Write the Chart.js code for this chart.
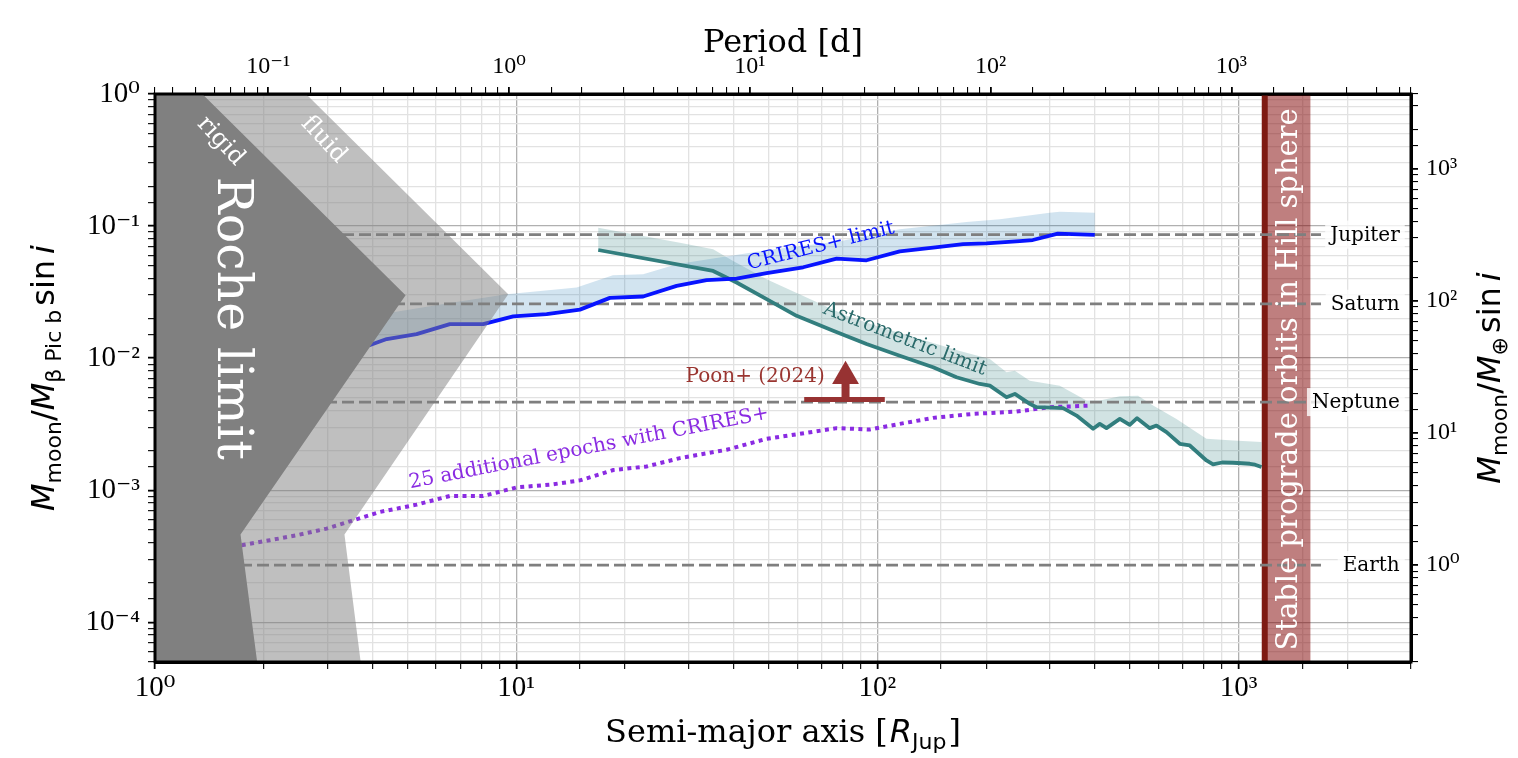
<!DOCTYPE html>
<html><head><meta charset="utf-8">
<script src="https://cdn.jsdelivr.net/npm/chart.js@4.4.1/dist/chart.umd.min.js"></script>
<style>html,body{margin:0;padding:0;background:#fff;}#wrap{width:1518px;height:758px;}</style>
</head><body><div id="wrap"><canvas id="c" width="1518" height="758"></canvas></div>
<script>
// ---------------- axis parameters ----------------
const X_MIN = 1, X_MAX = 3000;          // semi-major axis [R_Jup]
const Y_MIN = 5e-5, Y_MAX = 1;          // M_moon / M_bPic
const A_ONE_DAY = 9.55;                 // R_Jup at P = 1 d
const MASS_RATIO_EARTH = 3690;          // M_bPic / M_earth

// ---------------- Roche limit regions ----------------
const rocheRigidA = [1, 1.352, 4.94, 1.725, 1.918, 1];
const rocheRigidM = [1, 1, 0.02996, 4.61e-4, 5e-5, 5e-5];
const rocheFluidA = [1, 2.618, 9.504, 3.346, 3.710, 1];
const rocheFluidM = [1, 1, 0.03049, 4.61e-4, 5e-5, 5e-5];

// ---------------- CRIRES+ limit ----------------
const criresA = [3.25,3.94,4.38,5.30,6.55,8.10,9.81,12.14,15.01,18.17,22.46,27.80,33.65,40.74,49.33,62.30,77.08,93.3,115.3,142.6,172.7,200.4,247.8,269.2,315.7,399.6];
const criresM = [0.01171,0.01256,0.01394,0.01521,0.01810,0.01810,0.02069,0.02153,0.02329,0.02859,0.02929,0.03522,0.03890,0.04006,0.04393,0.04874,0.05673,0.05507,0.06440,0.06868,0.07311,0.07401,0.07702,0.07838,0.08761,0.08579];
const criresUpperA = [3.25,3.98,6.68,9.41,14.70,18.52,22.46,27.80,35.09,49.33,78.7,115.3,176.5,218.2,300.0,319.8,399.6];
const criresUpperM = [0.01659,0.02090,0.02638,0.03049,0.03424,0.04241,0.04316,0.05137,0.05673,0.06555,0.07663,0.09443,0.1072,0.1124,0.1262,0.1285,0.1262];

// ---------------- Astrometric limit ----------------
const astroA = [16.87,35.09,40.74,49.33,59.72,75.42,93.3,115.3,142.6,165.5,192.1,204.7,227.7,240.1,264.1,275.6,326.6,355.8,395.4,412.6,430.6,468.9,499.5,523.3,567.5,592.3,631.3,687.1,732.2,814.4,849.5,900,965.0,1020,1073.3,1110,1156.6];
const astroM = [0.06588,0.04571,0.03736,0.02795,0.02090,0.01610,0.01278,0.01042,0.008519,0.007161,0.006373,0.006186,0.005057,0.005357,0.004500,0.004249,0.004176,0.003673,0.002914,0.003178,0.002950,0.003467,0.003125,0.003510,0.002950,0.003086,0.002752,0.002245,0.002180,0.001679,0.001566,0.001620,0.001613,0.001600,0.001585,0.001560,0.001497];
const astroUpperA = [16.87,28.38,35.09,39.86,49.33,63.66,82.14,101.5,131.0,169.1,204.7,227.7,240.1,264.1,319.8,379.1,412.6,468.9,526.6,579.6,672.8,814.4,965.0,1156.6];
const astroUpperM = [0.09725,0.07490,0.06668,0.05438,0.03957,0.02878,0.02090,0.01717,0.01394,0.01131,0.009844,0.007811,0.008032,0.006750,0.006186,0.004767,0.004767,0.005147,0.005200,0.004369,0.003467,0.002449,0.002377,0.002312];

// ---------------- 25 additional epochs ----------------
const epochsA = [1.738,2.081,2.467,2.987,3.428,4.196,5.302,6.553,8.10,10.03,12.40,15.01,18.56,22.96,28.38,38.23,49.33,60.98,77.08,95.3,115.3,142.6,184.0,242.7,300.0,387.3];
const epochsM = [3.83e-4,4.18e-4,4.556e-4,5.119e-4,5.752e-4,6.845e-4,7.770e-4,9.04e-4,9.04e-4,1.050e-3,1.100e-3,1.186e-3,1.421e-3,1.512e-3,1.750e-3,2.022e-3,2.449e-3,2.671e-3,2.950e-3,2.879e-3,3.178e-3,3.529e-3,3.783e-3,3.938e-3,4.249e-3,4.369e-3];

// ---------------- Poon+ (2024) lower limit ----------------
const poonBarA = [62.7, 104.8];
const poonM = 4.85e-3;
const poonArrowA = 81.6;
const poonStemTopM = 6.4e-3;
const poonHeadM = 7.30e-3;

// ---------------- Solar-system planets ----------------
const planetNames = ['Jupiter', 'Saturn', 'Neptune', 'Earth'];
const planetMassEarth = [317.8, 95.16, 17.15, 1.0];
const planetLineA = [1, 1690];

// ---------------- Hill sphere ----------------
const hillInnerA = 1181;
const hillOuterA = 1580;

// ---------------- tick labels ----------------
const SUP = {'-':'\u207B','0':'\u2070','1':'\u00B9','2':'\u00B2','3':'\u00B3','4':'\u2074','5':'\u2075','6':'\u2076','7':'\u2077','8':'\u2078','9':'\u2079'};
function isDecade(v){ if(!(v>0)) return false; const l=Math.log10(v); return Math.abs(l-Math.round(l))<1e-6; }
function decadeLabel(v){ if(!isDecade(v)) return ''; const r=Math.round(Math.log10(v)); return '10'+String(r).split('').map(c=>SUP[c]).join(''); }

const pts = (xs, ys) => xs.map((a,i)=>({x:a, y: Array.isArray(ys)? ys[i] : ys}));
const polygon = (xs1, ys1, xs2, ys2) => pts(xs1, ys1).concat(pts(xs2, ys2).reverse());
const planetM = planetMassEarth.map(v => v / MASS_RATIO_EARTH);

const base = {pointRadius:0, pointHoverRadius:0, tension:0, fill:false};
const datasets = [];
// order: lower is drawn on top
datasets.push({...base, label:'rigid', data: pts(rocheRigidA, rocheRigidM), borderWidth:0, borderColor:'rgba(0,0,0,0)', backgroundColor:'#808080', fill:'shape', order:1});
datasets.push({...base, label:'fluid', data: pts(rocheFluidA, rocheFluidM), borderWidth:0, borderColor:'rgba(0,0,0,0)', backgroundColor:'rgba(128,128,128,0.5)', fill:'shape', order:2});
datasets.push({...base, label:'Poon bar', data: pts(poonBarA, poonM), borderColor:'#973232', borderWidth:5, borderCapStyle:'butt', order:3});
datasets.push({...base, label:'Poon stem', data: [{x:poonArrowA,y:poonM},{x:poonArrowA,y:poonStemTopM}], borderColor:'#973232', borderWidth:8, borderCapStyle:'butt', order:3});
datasets.push({label:'Poon head', data: [{x:poonArrowA,y:poonHeadM}], showLine:false, pointStyle:'triangle', pointRadius:15.5, pointHoverRadius:15.5, pointBackgroundColor:'#973232', pointBorderWidth:0, backgroundColor:'#973232', borderWidth:0, order:3});
datasets.push({...base, label:'CRIRES+ limit', data: pts(criresA, criresM), borderColor:'#0814ff', borderWidth:3.8, borderJoinStyle:'round', order:4});
datasets.push({...base, label:'Astrometric limit', data: pts(astroA, astroM), borderColor:'#327e7e', borderWidth:3.8, borderJoinStyle:'round', order:5});
datasets.push({...base, label:'25 additional epochs', data: pts(epochsA, epochsM), borderColor:'#8a2be2', borderWidth:4, borderDash:[4,4.4], borderCapStyle:'butt', order:6});
planetNames.forEach((n,i)=>{
  datasets.push({...base, label:n, data: pts(planetLineA, planetM[i]), borderColor:'#7f7f7f', borderWidth:2.8, borderDash:[12,5], borderCapStyle:'butt', order:7});
});
datasets.push({...base, label:'CRIRES+ band', data: polygon(criresUpperA, criresUpperM, criresA, criresM), borderWidth:0, borderColor:'rgba(0,0,0,0)', backgroundColor:'rgba(31,119,180,0.2)', fill:'shape', order:8});
datasets.push({...base, label:'Astrometric band', data: polygon(astroUpperA, astroUpperM, astroA, astroM), borderWidth:0, borderColor:'rgba(0,0,0,0)', backgroundColor:'rgba(47,127,127,0.22)', fill:'shape', order:8});
datasets.push({...base, label:'Hill line', data: [{x:hillInnerA,y:1e-6},{x:hillInnerA,y:10}], borderColor:'#7e1b13', borderWidth:6, order:9});
datasets.push({...base, label:'Hill band', data: [{x:hillInnerA,y:1e-6},{x:hillOuterA,y:1e-6},{x:hillOuterA,y:10},{x:hillInnerA,y:10}], borderWidth:0, borderColor:'rgba(0,0,0,0)', backgroundColor:'rgba(128,0,0,0.5)', fill:'shape', order:10});

// ---------------- in-plot annotations (data coordinates) ----------------
const SERIF = '"DejaVu Serif", serif';
const plotTexts = [
  {text:'Roche limit', a:1.62, m:0.0200, rot:90, font:'49px '+SERIF, color:'#ffffff'},
  {text:'rigid', a:1.52, m:0.44, rot:47, font:'24px '+SERIF, color:'#ffffff'},
  {text:'fluid', a:2.93, m:0.45, rot:47, font:'24px '+SERIF, color:'#ffffff'},
  {text:'CRIRES+ limit', a:69.7, m:0.0705, rot:-14, font:'20px '+SERIF, color:'#0814ff'},
  {text:'Astrometric limit', a:119.1, m:0.0139, rot:21, font:'20px '+SERIF, color:'#2a6a6a'},
  {text:'25 additional epochs with CRIRES+', a:15.9, m:0.00208, rot:-11, font:'20px '+SERIF, color:'#8a2be2'},
  {text:'Poon+ (2024)', a:71.5, m:0.0072, rot:0, font:'20px '+SERIF, color:'#9a3530', align:'right'},
  {text:'Stable prograde orbits in Hill sphere', a:1385, m:0.0069, rot:-90, font:'29px '+SERIF, color:'#ffffff'}
];
const planetLabelA = 2792;

function drawRich(ctx, parts, x, y, rot){
  ctx.save(); ctx.translate(x,y); ctx.rotate(rot*Math.PI/180);
  ctx.textBaseline='alphabetic'; ctx.textAlign='left'; ctx.fillStyle='#000';
  let total=0; const w=[];
  for(const p of parts){ ctx.font=p.font; const ww=ctx.measureText(p.text).width + (p.gap||0); w.push(ww); total+=ww; }
  let cx=-total/2;
  parts.forEach((p,i)=>{ ctx.font=p.font; ctx.fillText(p.text, cx+(p.gap||0), p.dy||0); cx+=w[i]; });
  ctx.restore();
}

const annotPlugin = {
  id:'annot',
  afterDatasetsDraw(chart){
    const {ctx, chartArea:ca, scales:{x, y}} = chart;
    ctx.save();
    ctx.beginPath(); ctx.rect(ca.left, ca.top, ca.right-ca.left, ca.bottom-ca.top); ctx.clip();
    for(const t of plotTexts){
      const px=x.getPixelForValue(t.a), py=y.getPixelForValue(t.m);
      ctx.save(); ctx.translate(px,py); ctx.rotate(t.rot*Math.PI/180);
      ctx.font=t.font; ctx.fillStyle=t.color; ctx.textAlign=t.align||'center'; ctx.textBaseline='middle';
      ctx.fillText(t.text,0,0); ctx.restore();
    }
    // planet labels
    ctx.font='20px '+SERIF; ctx.textAlign='right'; ctx.textBaseline='middle';
    planetNames.forEach((n,i)=>{
      const px=x.getPixelForValue(planetLabelA), py=y.getPixelForValue(planetM[i]);
      const w=ctx.measureText(n).width;
      ctx.fillStyle='rgba(255,255,255,0.8)';
      ctx.fillRect(px-w-5, py-14, w+10, 28);
      ctx.fillStyle='#000';
      ctx.fillText(n, px, py+1);
    });
    ctx.restore();
    // frame
    ctx.save(); ctx.strokeStyle='#000'; ctx.lineWidth=3;
    ctx.strokeRect(ca.left, ca.top, ca.right-ca.left, ca.bottom-ca.top); ctx.restore();
  },
  afterDraw(chart){
    const {ctx, chartArea:ca} = chart;
    const cxm=(ca.left+ca.right)/2, cym=(ca.top+ca.bottom)/2;
    const SANS='"DejaVu Sans", sans-serif';
    drawRich(ctx,[{text:'Period [d]', font:'32px '+SERIF}], cxm, 52, 0);
    drawRich(ctx,[
      {text:'Semi-major axis [', font:'32px '+SERIF},
      {text:'R', font:'italic 32px '+SANS, gap:2},
      {text:'Jup', font:'22px '+SANS, dy:7},
      {text:']', font:'32px '+SERIF, gap:2}
    ], cxm, 742, 0);
    drawRich(ctx,[
      {text:'M', font:'italic 32px '+SANS},
      {text:'moon', font:'22px '+SANS, dy:7},
      {text:'/', font:'32px '+SANS},
      {text:'M', font:'italic 32px '+SANS},
      {text:'\u03B2 Pic b', font:'22px '+SANS, dy:7},
      {text:'sin', font:'32px '+SANS, gap:4},
      {text:'i', font:'italic 32px '+SANS, gap:6}
    ], 54, cym, -90);
    drawRich(ctx,[
      {text:'M', font:'italic 32px '+SANS},
      {text:'moon', font:'22px '+SANS, dy:7},
      {text:'/', font:'32px '+SANS},
      {text:'M', font:'italic 32px '+SANS},
      {text:'\u2295', font:'22px '+SANS, dy:7},
      {text:'sin', font:'32px '+SANS, gap:4},
      {text:'i', font:'italic 32px '+SANS, gap:6}
    ], 1500, cym, -90);
  }
};

const gridMain = {
  color: c => isDecade(c.tick && c.tick.value) ? '#b0b0b0' : '#e2e2e2',
  lineWidth: 1.3, drawTicks:true, tickLength:7, tickColor:'#000',
  tickWidth: c => isDecade(c.tick && c.tick.value) ? 1.8 : 1.1
};
const gridOff = {
  drawOnChartArea:false, drawTicks:true, tickLength:7, tickColor:'#000', color:'#000',
  lineWidth: c => isDecade(c.tick && c.tick.value) ? 1.8 : 1.1
};
const borderOpt = {display:true, color:'#000', width:3};
const tickOpt = (size, pad) => ({autoSkip:false, maxRotation:0, minRotation:0, color:'#000', padding:pad,
  font:{family:'"Liberation Serif", "DejaVu Serif", serif', size:size}, callback: v => decadeLabel(v)});

new Chart(document.getElementById('c'), {
  type:'line',
  data:{datasets},
  options:{
    responsive:false, devicePixelRatio:1, animation:false, events:[],
    layout:{padding:0},
    plugins:{legend:{display:false}, tooltip:{enabled:false}, title:{display:false}},
    scales:{
      x:{type:'logarithmic', position:'bottom', min:X_MIN, max:X_MAX, grid:gridMain, border:borderOpt,
         ticks:tickOpt(29,2), afterFit:s=>{s.height=96;}},
      x2:{type:'logarithmic', position:'top', min:Math.pow(X_MIN/A_ONE_DAY,1.5), max:Math.pow(X_MAX/A_ONE_DAY,1.5),
         grid:gridOff, border:borderOpt, ticks:tickOpt(24,6), afterFit:s=>{s.height=94;}},
      y:{type:'logarithmic', position:'left', min:Y_MIN, max:Y_MAX, grid:gridMain, border:borderOpt,
         ticks:tickOpt(29,8), afterFit:s=>{s.width=155;}},
      y2:{type:'logarithmic', position:'right', min:Y_MIN*MASS_RATIO_EARTH, max:Y_MAX*MASS_RATIO_EARTH,
         grid:gridOff, border:borderOpt, ticks:tickOpt(24,8), afterFit:s=>{s.width=107;}}
    }
  },
  plugins:[annotPlugin]
});
</script></body></html>
